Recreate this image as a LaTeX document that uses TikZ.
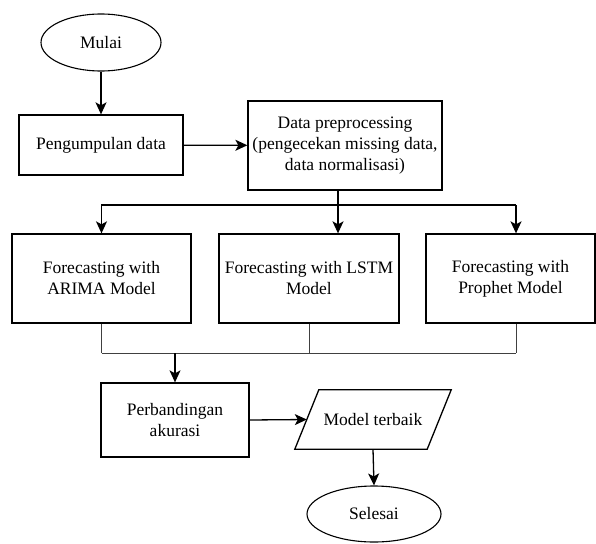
\documentclass[tikz,border=0pt]{standalone}
\usepackage{fontspec}
\setmainfont{Liberation Serif}
\newfontfamily\diagfont{Liberation Serif}
\usetikzlibrary{arrows.meta,shapes.geometric,calc}
\begin{document}
\begin{tikzpicture}[x=1pt,y=-1pt,
  every node/.style={font=\diagfont\fontsize{17.5}{21}\selectfont, align=center, inner sep=2pt},
  boxnode/.style={draw, rectangle, line width=1.3pt},
  termnode/.style={draw, ellipse, line width=1.1pt},
  arr/.style={line width=1.3pt, -{Stealth[length=12pt,width=11pt,inset=3pt]}},
  thinline/.style={line width=1pt, draw=black!75},
]
\useasboundingbox (0,0) rectangle (596,543);
\node[termnode, minimum width=120pt, minimum height=57pt] (mulai) at (101,42.5) {Mulai};
\node[boxnode, minimum width=164pt, minimum height=60pt] (peng) at (101,145) {Pengumpulan data};
\node[boxnode, minimum width=194pt, minimum height=89pt] (prep) at (345,145.5) {Data preprocessing\\(pengecekan missing data,\\data normalisasi)};
\node[boxnode, minimum width=179pt, minimum height=89pt] (arima) at (101.5,278.5) {Forecasting with\\ARIMA Model};
\node[boxnode, minimum width=180pt, minimum height=89pt] (lstm) at (309,278.5) {Forecasting with LSTM\\Model};
\node[boxnode, minimum width=169pt, minimum height=89pt] (prophet) at (510.5,278.5) {Forecasting with\\Prophet Model};
\node[boxnode, minimum width=148pt, minimum height=74pt] (perb) at (175,420) {Perbandingan\\akurasi};
\node[minimum width=132pt, minimum height=59pt, inner sep=0pt] (model) at (373,419.5) {Model terbaik};
\draw[line width=1.3pt] ($(model.north west)+(12,0)$) -- ($(model.north east)+(12,0)$) -- ($(model.south east)+(-12,0)$) -- ($(model.south west)+(-12,0)$) -- cycle;
\node[termnode, minimum width=134pt, minimum height=56pt] (selesai) at (374,514) {Selesai};

\coordinate (j1) at (338,205);
\coordinate (j2) at (175,353);
\draw[arr] (mulai) -- (peng);
\draw[arr] (peng) -- (prep);
\draw[line width=1.3pt] (j1 |- prep.south) -- (j1);
\draw[line width=1.3pt] (101,205) -- (516,205);
\draw[arr] (arima.north |- j1) -- (arima.north);
\draw[arr] (j1) -- (j1 |- lstm.north);
\draw[arr] (516,205) -- (prophet.north -| 516,0);
\draw[thinline] (arima.south) -- (arima.south |- j2);
\draw[thinline] (lstm.south) -- (lstm.south |- j2);
\draw[thinline] (prophet.south -| 516,0) -- (516,353);
\draw[thinline] (arima.south |- j2) -- (516,353);
\draw[arr] (j2) -- (perb.north);
\draw[arr] (perb.east) -- (model.west);
\draw[arr] (model.south) -- (selesai.north);
\end{tikzpicture}
\end{document}
